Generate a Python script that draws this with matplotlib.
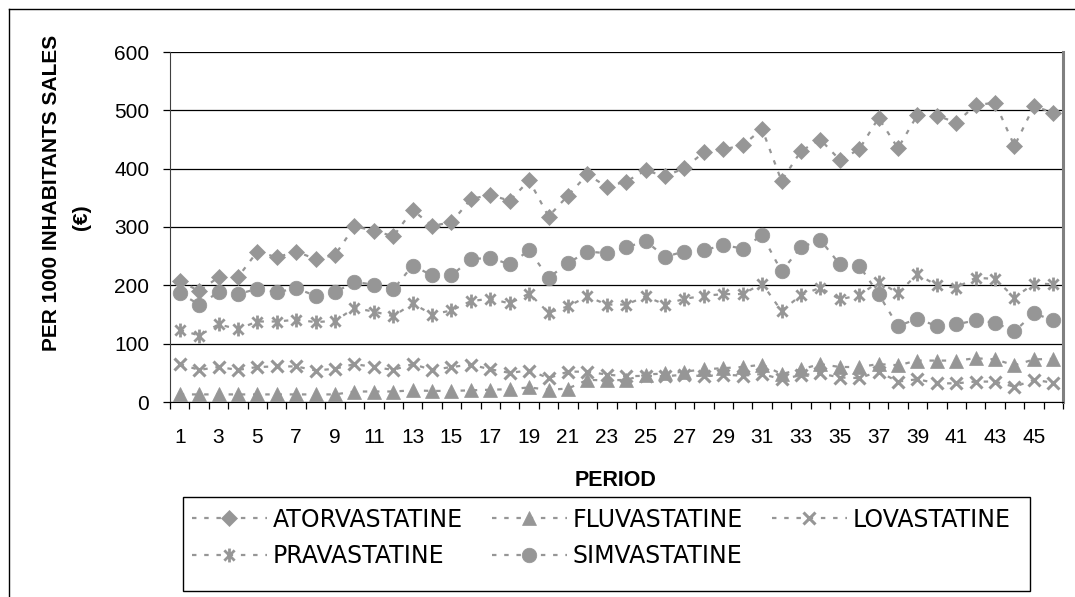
import matplotlib
matplotlib.use("Agg")
import matplotlib.pyplot as plt
from matplotlib.path import Path
from matplotlib.lines import Line2D
from matplotlib.patches import Rectangle
import numpy as np

# ---- data (per 1000 inhabitants sales, EUR) ----
periods = list(range(1, 47))
atorva = [208, 190, 214, 214, 258, 248, 258, 245, 252, 301,
          294, 284, 329, 302, 308, 348, 355, 345, 380, 318,
          354, 390, 369, 378, 397, 387, 401, 428, 433, 440,
          468, 379, 430, 450, 415, 433, 487, 435, 492, 491,
          479, 509, 513, 439, 507, 496]
fluva = [13, 13, 13, 13, 13, 13, 13, 13, 13, 18,
         18, 18, 20, 19, 19, 20, 21, 22, 25, 21,
         23, 38, 37, 38, 47, 49, 52, 56, 58, 60,
         64, 48, 56, 65, 60, 60, 65, 63, 71, 71,
         71, 75, 73, 63, 73, 74]
lova = [65, 55, 60, 55, 60, 61, 61, 54, 57, 65,
        60, 55, 65, 55, 60, 64, 56, 50, 54, 41,
        52, 52, 47, 44, 45, 44, 47, 44, 47, 45,
        48, 39, 46, 49, 42, 41, 52, 35, 39, 32,
        32, 35, 35, 26, 38, 33]
prava = [124, 114, 133, 125, 138, 138, 141, 137, 139, 161,
         155, 147, 169, 150, 157, 173, 177, 169, 186, 153,
         164, 181, 167, 167, 181, 167, 177, 182, 185, 185,
         203, 156, 183, 196, 176, 183, 206, 187, 219, 200,
         196, 213, 211, 179, 203, 202]
simva = [187, 167, 188, 185, 194, 188, 195, 182, 188, 206,
         201, 193, 234, 217, 217, 245, 247, 236, 260, 213,
         238, 258, 255, 265, 276, 249, 258, 260, 269, 263,
         286, 224, 265, 278, 236, 234, 185, 130, 143, 130,
         133, 140, 136, 121, 152, 140]
names = ["ATORVASTATINE", "FLUVASTATINE", "LOVASTATINE", "PRAVASTATINE", "SIMVASTATINE"]
tick_labels = [str(p) for p in periods if p % 2 == 1]

GREY = "#969696"
# excel-style asterisk: an x with a vertical bar through it
star = Path([(-1, -1), (1, 1), (-1, 1), (1, -1), (0, -1.35), (0, 1.35)],
            [Path.MOVETO, Path.LINETO] * 3)

styles = [
    dict(marker="D", ms=8.5, mew=0.5),
    dict(marker="^", ms=10, mew=0.5),
    dict(marker="x", ms=9, mew=2.2),
    dict(marker=star, ms=10, mew=2.0, mfc="none"),
    dict(marker="o", ms=10.5, mew=0.5),
]

fig = plt.figure(figsize=(10.75, 5.97), dpi=100)
W, H = 1075, 597
ax = fig.add_axes([170 / W, 1 - 402 / H, (1063 - 170) / W, (402 - 52) / H])

lines = []
for vals, name, st in zip([atorva, fluva, lova, prava, simva], names, styles):
    ln, = ax.plot(periods, vals, color=GREY, lw=1.6, linestyle=(0, (2, 3.5)),
                  mfc=st.get("mfc", GREY), mec=GREY, label=name, clip_on=False,
                  **{k: v for k, v in st.items() if k != "mfc"})
    lines.append(ln)

ax.set_xlim(0.5, 46.5)
ax.set_ylim(0, 600)
ax.set_yticks(range(0, 601, 100))
ax.yaxis.grid(True, color="black", lw=0.9)
ax.set_axisbelow(True)

# category boundaries as tick marks, labels on every 2nd category
ax.set_xticks(np.arange(0.5, 47, 1))
ax.set_xticklabels([])
ax.set_xticks([p for p in periods if p % 2 == 1], minor=True)
ax.set_xticklabels(tick_labels, minor=True)
ax.tick_params(axis="x", which="major", direction="out", length=5, width=0.9)
ax.tick_params(axis="x", which="minor", length=0, pad=19, labelsize=15)
ax.tick_params(axis="y", direction="out", length=5, width=0.9, pad=10, labelsize=15)
for lab in ax.get_xticklabels(minor=True) + ax.get_yticklabels():
    lab.set_fontfamily("Liberation Sans")

ax.spines["top"].set_visible(False)
ax.spines["right"].set_color("#808080")
ax.spines["right"].set_linewidth(2.2)
ax.spines["left"].set_color("#404040")
ax.spines["bottom"].set_color("black")

fig.text(52 / W, 1 - 193 / H, "PER 1000 INHABITANTS SALES", rotation=90,
         ha="center", va="center", fontsize=15, fontweight="bold", family="Liberation Sans")
fig.text(81 / W, 1 - 217 / H, "(€)", rotation=90,
         ha="center", va="center", fontsize=15, fontweight="bold", family="Liberation Sans")
fig.text(616 / W, 1 - 481 / H, "PERIOD", ha="center", va="center",
         fontsize=15.5, fontweight="bold", family="Liberation Sans")

# legend box drawn by hand so its size matches the reference
fig.add_artist(Rectangle((183 / W, 1 - 591 / H), (1030 - 183) / W, (591 - 497) / H,
                         transform=fig.transFigure, facecolor="white", edgecolor="black",
                         lw=1, zorder=1))
# legend is filled column-wise, so reorder to get the row order of the reference
order = [0, 3, 1, 4, 2]
leg = fig.legend([lines[i] for i in order], [names[i] for i in order],
                 loc="upper left", bbox_to_anchor=(181 / W, 1 - 497 / H), ncol=3,
                 numpoints=1, handlelength=3.2, handletextpad=0.25,
                 columnspacing=1.2, borderpad=0.45, borderaxespad=0, labelspacing=0.52,
                 prop={"family": "DejaVu Sans", "size": 17}, frameon=False)
leg.set_zorder(2)

# outer chart frame (left and top edges are visible)
fig.add_artist(Line2D([9 / W, 9 / W], [0, 1 - 9 / H], transform=fig.transFigure, color="black", lw=1))
fig.add_artist(Line2D([9 / W, 1], [1 - 9 / H, 1 - 9 / H], transform=fig.transFigure, color="black", lw=1))

fig.savefig("out.png", dpi=100)
